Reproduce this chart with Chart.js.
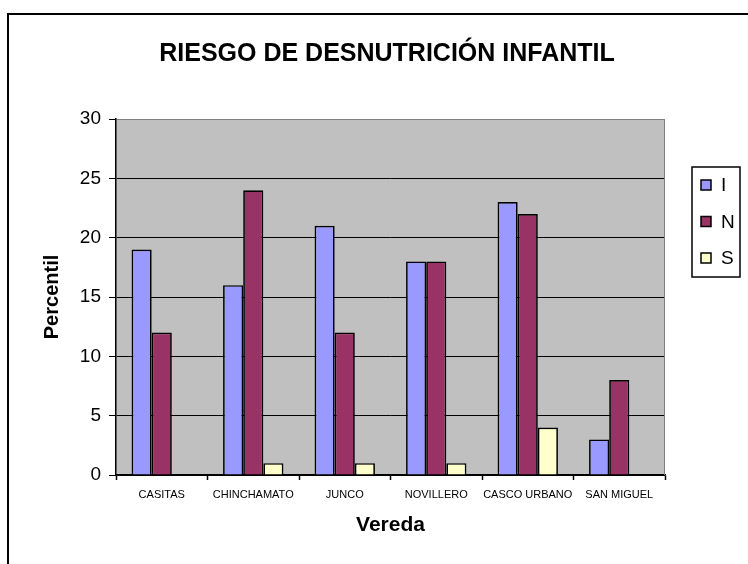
<!DOCTYPE html>
<html>
<head>
<meta charset="utf-8">
<script src="https://cdn.jsdelivr.net/npm/chart.js@4"></script>
<style>
    html, body { margin: 0; padding: 0; background: #fff; }
    #wrap { width: 748px; height: 564px; }
</style>
</head>
<body>
<div id="wrap"><canvas id="myChart" width="748" height="564"></canvas></div>
<script>
const veredas = ['CASITAS', 'CHINCHAMATO', 'JUNCO', 'NOVILLERO', 'CASCO URBANO', 'SAN MIGUEL'];
const serieI = [19, 16, 21, 18, 23, 3];
const serieN = [12, 24, 12, 18, 22, 8];
const serieS = [0, 1, 1, 1, 4, 0];
const yTicks = [0, 5, 10, 15, 20, 25, 30];

const fontName = "'Liberation Sans', Arial, sans-serif";

// plot background + outer frame
const frame = {
    id: 'frame',
    beforeDraw(chart) {
        const a = chart.chartArea;
        const ctx = chart.ctx;
        ctx.save();
        ctx.fillStyle = '#C0C0C0';
        ctx.fillRect(a.left, a.top, a.right - a.left, a.bottom - a.top);
        ctx.restore();
    },
    beforeDatasetsDraw(chart) {
        const a = chart.chartArea;
        const ctx = chart.ctx;
        ctx.save();
        ctx.strokeStyle = '#808080';
        ctx.lineWidth = 1;
        ctx.beginPath();
        ctx.moveTo(a.right - 0.5, a.top);
        ctx.lineTo(a.right - 0.5, a.bottom);
        ctx.stroke();
        ctx.restore();
    },
    afterDraw(chart) {
        const ctx = chart.ctx;
        ctx.save();
        ctx.strokeStyle = '#000';
        ctx.lineWidth = 2;
        ctx.strokeRect(8, 14, 900, 700);
        ctx.restore();
    }
};

// legend drawn in its own layout box on the right
const legendBox = {
    id: 'legendBox',
    beforeInit(chart) {
        const box = {
            position: 'right',
            weight: 0,
            fullSize: false,
            options: {},
            isHorizontal() { return false; },
            update(maxWidth, maxHeight) {
                this.width = 83;
                this.height = maxHeight;
            },
            draw() {
                const ctx = chart.ctx;
                const x0 = this.left + 27;
                const y0 = 167;
                ctx.save();
                ctx.strokeStyle = '#000';
                ctx.lineWidth = 1.5;
                ctx.strokeRect(x0, y0, 48, 110);
                ctx.font = '19px ' + fontName;
                ctx.textBaseline = 'middle';
                chart.data.datasets.forEach((ds, i) => {
                    const cy = y0 + 18 + i * 36.5;
                    ctx.fillStyle = ds.backgroundColor;
                    ctx.fillRect(x0 + 9, cy - 5, 10, 10);
                    ctx.strokeStyle = '#000';
                    ctx.lineWidth = 1.5;
                    ctx.strokeRect(x0 + 9, cy - 5, 10, 10);
                    ctx.fillStyle = '#000';
                    ctx.fillText(ds.label, x0 + 29, cy + 1);
                });
                ctx.restore();
            }
        };
        Chart.layouts.addBox(chart, box);
    }
};

const ctx = document.getElementById('myChart').getContext('2d');

new Chart(ctx, {
    type: 'bar',
    data: {
        labels: veredas,
        datasets: [
            { label: 'I', data: serieI, backgroundColor: '#9999FF', borderColor: '#000', borderWidth: 1.7 },
            { label: 'N', data: serieN, backgroundColor: '#993366', borderColor: '#000', borderWidth: 1.7 },
            { label: 'S', data: serieS, backgroundColor: '#FFFFCC', borderColor: '#000', borderWidth: 1.7 }
        ]
    },
    options: {
        responsive: false,
        animation: false,
        layout: { padding: { left: 26, right: 0, top: 0, bottom: 0 } },
        datasets: {
            bar: { categoryPercentage: 0.66, barPercentage: 1 }
        },
        scales: {
            x: {
                afterFit(scale) { scale.height = 89; },
                border: { color: '#000', width: 1.5 },
                grid: {
                    offset: true,
                    drawOnChartArea: false,
                    drawTicks: true,
                    tickLength: 5,
                    tickColor: '#000',
                    tickWidth: 1.5
                },
                ticks: {
                    color: '#000',
                    padding: 8,
                    maxRotation: 0,
                    autoSkip: false,
                    font: { family: fontName, size: 11 }
                },
                title: {
                    display: true,
                    text: 'Vereda',
                    color: '#000',
                    font: { family: fontName, size: 21, weight: 'bold' },
                    padding: { top: 0, bottom: 26 }
                }
            },
            y: {
                min: 0,
                max: 30,
                afterFit(scale) { scale.width = 90; },
                afterBuildTicks(scale) {
                    scale.ticks = yTicks.map(v => ({ value: v }));
                },
                border: { color: '#000', width: 1.5 },
                grid: {
                    color: c => c.tick && c.tick.value === 30 ? '#808080' : '#000',
                    lineWidth: 1,
                    tickLength: 7,
                    tickColor: '#000'
                },
                ticks: {
                    color: '#000',
                    padding: 8,
                    font: { family: fontName, size: 19 }
                },
                title: {
                    display: true,
                    text: 'Percentil',
                    color: '#000',
                    font: { family: fontName, size: 20, weight: 'bold' },
                    padding: { top: 14, bottom: 0 }
                }
            }
        },
        plugins: {
            legend: { display: false },
            tooltip: { enabled: false },
            title: {
                display: true,
                text: 'RIESGO DE DESNUTRICIÓN INFANTIL',
                color: '#000',
                font: { family: fontName, size: 25, weight: 'bold' },
                padding: { top: 39, bottom: 50 }
            }
        }
    },
    plugins: [frame, legendBox]
});
</script>
</body>
</html>
